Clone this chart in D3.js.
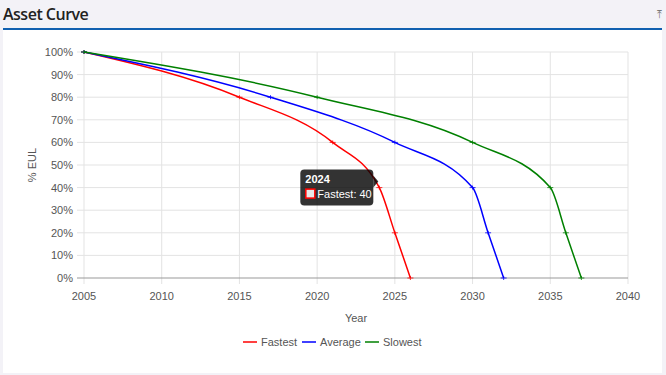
<!DOCTYPE html>
<html>
<head>
<meta charset="utf-8">
<script src="https://cdn.jsdelivr.net/npm/d3@7"></script>
<style>
  body { margin: 0; background: #f3f2f7; }
  svg { display: block; }
</style>
</head>
<body>
<svg id="chart" width="666" height="375"></svg>
<script>
// series values
var seriesNames = ["Fastest", "Average", "Slowest"];
var seriesColors = ["#ff0000", "#0000ff", "#008000"];
var fastestYears = [2005, 2015, 2021, 2024, 2025, 2026];
var fastestValues = [100, 80, 60, 40, 20, 0];
var averageYears = [2005, 2017, 2025, 2030, 2031, 2032];
var averageValues = [100, 80, 60, 40, 20, 0];
var slowestYears = [2005, 2020, 2030, 2035, 2036, 2037];
var slowestValues = [100, 80, 60, 40, 20, 0];
var xTicks = [2005, 2010, 2015, 2020, 2025, 2030, 2035, 2040];
var yTicks = [0, 10, 20, 30, 40, 50, 60, 70, 80, 90, 100];

var series = [
    { name: seriesNames[0], color: seriesColors[0], pts: d3.zip(fastestYears, fastestValues) },
    { name: seriesNames[1], color: seriesColors[1], pts: d3.zip(averageYears, averageValues) },
    { name: seriesNames[2], color: seriesColors[2], pts: d3.zip(slowestYears, slowestValues) }
];

var svg = d3.select("#chart");
var font = "'Liberation Sans', Arial, sans-serif";

// header + card
svg.append("text").attr("x", 3).attr("y", 20)
    .attr("font-family", "'Open Sans', sans-serif").attr("font-weight", 600)
    .attr("font-size", 16).attr("letter-spacing", -0.5).attr("fill", "#222").text("Asset Curve");
svg.append("text").attr("x", 659).attr("y", 18).attr("text-anchor", "middle")
    .attr("font-family", font).attr("font-size", 11).attr("fill", "#777").text("\u2912");
svg.append("rect").attr("x", 3).attr("y", 29).attr("width", 659).attr("height", 344).attr("fill", "#fff");
svg.append("rect").attr("x", 3).attr("y", 28).attr("width", 659).attr("height", 2).attr("fill", "#1060b0");

var pLeft = 84, pRight = 628, pTop = 52, pBottom = 278;
var x = d3.scaleLinear().domain([2005, 2040]).range([pLeft, pRight]);
var y = d3.scaleLinear().domain([0, 100]).range([pBottom, pTop]);

// grid
var g = svg.append("g");
g.selectAll(".vg").data(xTicks).enter().append("line")
    .attr("x1", function(d) { return x(d); }).attr("x2", function(d) { return x(d); })
    .attr("y1", pTop).attr("y2", pBottom + 6)
    .attr("stroke", "#e3e3e3").attr("stroke-width", 1);
g.selectAll(".hg").data(yTicks).enter().append("line")
    .attr("x1", pLeft - 7).attr("x2", pRight)
    .attr("y1", function(d) { return y(d); }).attr("y2", function(d) { return y(d); })
    .attr("stroke", function(d) { return d === 0 ? "#999" : "#e3e3e3"; })
    .attr("stroke-width", 1);

// axes labels
g.selectAll(".yl").data(yTicks).enter().append("text")
    .attr("x", pLeft - 11).attr("y", function(d) { return y(d) + 4; })
    .attr("text-anchor", "end").attr("font-family", font).attr("font-size", 11)
    .attr("fill", "#555").text(function(d) { return d + "%"; });
g.selectAll(".xl").data(xTicks).enter().append("text")
    .attr("x", function(d) { return x(d); }).attr("y", pBottom + 22)
    .attr("text-anchor", "middle").attr("font-family", font).attr("font-size", 11)
    .attr("fill", "#555").text(function(d) { return d; });
svg.append("text").attr("transform", "translate(36," + ((pTop + pBottom) / 2) + ") rotate(-90)")
    .attr("text-anchor", "middle").attr("font-family", font).attr("font-size", 11)
    .attr("fill", "#555").text("% EUL");
svg.append("text").attr("x", (pLeft + pRight) / 2).attr("y", pBottom + 44)
    .attr("text-anchor", "middle").attr("font-family", font).attr("font-size", 11)
    .attr("fill", "#555").text("Year");

// lines
var line = d3.line().x(function(d) { return x(d[0]); }).y(function(d) { return y(d[1]); })
    .curve(d3.curveMonotoneX);
series.forEach(function(s) {
    svg.append("path").attr("d", line(s.pts)).attr("fill", "none")
        .attr("stroke", s.color).attr("stroke-width", 1.5);
    svg.selectAll(null).data(s.pts).enter().append("path")
        .attr("d", function(d) {
            var px = x(d[0]), py = y(d[1]);
            return "M" + (px - 3) + "," + py + "H" + (px + 3) + "M" + px + "," + (py - 2) + "V" + (py + 2);
        })
        .attr("stroke", s.color).attr("stroke-width", 1).attr("opacity", 0.8);
});

// legend
var legendX = [243, 302, 365];
series.forEach(function(s, i) {
    svg.append("line").attr("x1", legendX[i]).attr("x2", legendX[i] + 14)
        .attr("y1", 342).attr("y2", 342).attr("stroke", s.color).attr("stroke-width", 1.5);
    svg.append("text").attr("x", legendX[i] + 18).attr("y", 346)
        .attr("font-family", font).attr("font-size", 11).attr("fill", "#555").text(s.name);
});

// tooltip on Fastest 2024
var tip = series[0].pts[3];
var tx = x(tip[0]), ty = y(tip[1]);
var tt = svg.append("g");
tt.append("rect").attr("x", tx - 79).attr("y", ty - 18).attr("width", 73).attr("height", 36)
    .attr("rx", 4).attr("fill", "rgba(0,0,0,0.8)");
tt.append("path").attr("d", "M" + (tx - 6) + "," + (ty - 12) + "L" + (tx - 1) + "," + (ty - 6) + "L" + (tx - 6) + "," + ty + "Z")
    .attr("fill", "rgba(0,0,0,0.8)");
tt.append("text").attr("x", tx - 74).attr("y", ty - 5).attr("font-family", font)
    .attr("font-weight", "bold").attr("font-size", 11).attr("fill", "#fff").text(tip[0]);
tt.append("rect").attr("x", tx - 73.5).attr("y", ty + 1.5).attr("width", 9).attr("height", 9)
    .attr("fill", "#e8e8e8").attr("stroke", seriesColors[0]).attr("stroke-width", 1.5);
tt.append("text").attr("x", tx - 62).attr("y", ty + 10).attr("font-family", font)
    .attr("font-size", 11).attr("fill", "#fff").text(series[0].name + ": " + tip[1]);
</script>
</body>
</html>
